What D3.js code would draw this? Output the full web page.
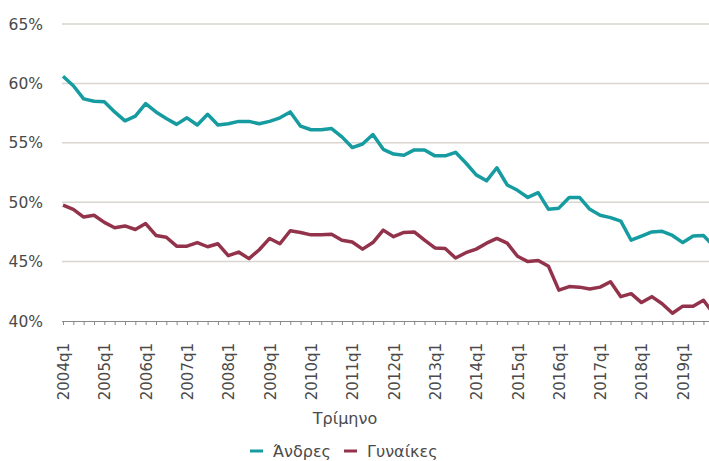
<!DOCTYPE html>
<html>
<head>
<meta charset="utf-8">
<script src="https://cdn.jsdelivr.net/npm/d3@7"></script>
<style>
  body { margin: 0; background: #fff; }
  svg { display: block; font-family: "DejaVu Sans", sans-serif; }
</style>
</head>
<body>
<div id="chart"></div>
<script>
// quarters 2004q1 .. 2019q4
var quarters = [];
for (var yr = 2004; yr <= 2019; yr++) {
  for (var q = 1; q <= 4; q++) quarters.push(yr + "q" + q);
}

var men = [
  60.6, 59.8, 58.7, 58.5, 58.45, 57.6, 56.85, 57.25,
  58.3, 57.6, 57.05, 56.55, 57.1, 56.5, 57.4, 56.5,
  56.6, 56.8, 56.8, 56.6, 56.8, 57.1, 57.6, 56.4,
  56.1, 56.1, 56.2, 55.5, 54.6, 54.9, 55.7, 54.45,
  54.05, 53.95, 54.4, 54.4, 53.9, 53.9, 54.2, 53.3,
  52.3, 51.8, 52.9, 51.45, 51.0, 50.4, 50.8, 49.4,
  49.5, 50.4, 50.4, 49.4, 48.9, 48.7, 48.4, 46.8,
  47.15, 47.5, 47.55, 47.2, 46.6, 47.15, 47.2, 46.3
];

var women = [
  49.75, 49.4, 48.75, 48.9, 48.3, 47.85, 48.0, 47.7,
  48.2, 47.2, 47.05, 46.3, 46.3, 46.6, 46.25, 46.5,
  45.5, 45.8, 45.25, 46.0, 46.95, 46.5, 47.6, 47.45,
  47.25, 47.25, 47.3, 46.8, 46.65, 46.05, 46.6, 47.65,
  47.1, 47.45, 47.5, 46.8, 46.15, 46.1, 45.3, 45.75,
  46.05, 46.55, 46.95, 46.55, 45.45, 45.0, 45.1, 44.6,
  42.6, 42.9, 42.85, 42.7, 42.85, 43.3, 42.05, 42.3,
  41.55, 42.05, 41.45, 40.65, 41.25, 41.25, 41.75, 40.6
];

var yTicks = [40, 45, 50, 55, 60, 65];
var seriesNames = ["Άνδρες", "Γυναίκες"];
var colors = ["#169ca0", "#93334b"];
var xTitle = "Τρίμηνο";

var svgWidth = 709;
var svgHeight = 461;

var svg = d3
  .select("#chart")
  .append("svg")
  .attr("width", svgWidth)
  .attr("height", svgHeight);

// quarter positions: 2004q1 at 63, step ~10.33px
var xScale = d3
  .scalePoint()
  .domain(quarters)
  .range([63, 63 + (quarters.length - 1) * 10.33]);

var yScale = d3.scaleLinear().domain([40, 65]).range([321, 24]);

// gridlines
svg
  .append("g")
  .selectAll("line")
  .data(yTicks.filter((d) => d > 40))
  .enter()
  .append("line")
  .attr("x1", 62)
  .attr("x2", svgWidth)
  .attr("y1", (d) => yScale(d))
  .attr("y2", (d) => yScale(d))
  .attr("stroke", "#d9d5cf")
  .attr("stroke-width", 1.5);

// y labels
svg
  .append("g")
  .selectAll("text")
  .data(yTicks)
  .enter()
  .append("text")
  .attr("x", 43)
  .attr("y", (d) => yScale(d))
  .attr("dy", "0.36em")
  .attr("text-anchor", "end")
  .attr("font-size", "15.5px")
  .attr("fill", "#4a4a4a")
  .text((d) => d + "%");

// x axis
var xAxis = d3.axisBottom(xScale).tickSize(4).tickFormat("");
var xAxisG = svg
  .append("g")
  .attr("transform", `translate(0, ${yScale(40)})`)
  .call(xAxis);
xAxisG.select(".domain").attr("stroke", "#888").attr("d", `M62,0.5H${svgWidth}`);
xAxisG.selectAll(".tick line").attr("stroke", "#888");

// year labels
svg
  .append("g")
  .selectAll("text")
  .data(quarters.filter((d) => d.endsWith("q1")))
  .enter()
  .append("text")
  .attr("transform", (d) => `translate(${xScale(d) + 6}, 343) rotate(-90)`)
  .attr("text-anchor", "end")
  .attr("font-size", "15px")
  .attr("fill", "#4a4a4a")
  .text((d) => d);

// lines
var line = d3
  .line()
  .x((d, i) => xScale(quarters[i]))
  .y((d) => yScale(d));

[men, women].forEach(function (values, k) {
  svg
    .append("path")
    .datum(values)
    .attr("d", line)
    .attr("fill", "none")
    .attr("stroke", colors[k])
    .attr("stroke-width", 3.5)
    .attr("stroke-linejoin", "round");
});

// x title
svg
  .append("text")
  .attr("x", 345)
  .attr("y", 424)
  .attr("text-anchor", "middle")
  .attr("font-size", "16px")
  .attr("fill", "#4a4a4a")
  .text(xTitle);

// legend
var legendX = [250, 344];
seriesNames.forEach(function (name, k) {
  svg
    .append("line")
    .attr("x1", legendX[k])
    .attr("x2", legendX[k] + 13)
    .attr("y1", 451)
    .attr("y2", 451)
    .attr("stroke", colors[k])
    .attr("stroke-width", 3);
  svg
    .append("text")
    .attr("x", legendX[k] + 23)
    .attr("y", 457)
    .attr("font-size", "16px")
    .attr("fill", "#4a4a4a")
    .text(name);
});
</script>
</body>
</html>
